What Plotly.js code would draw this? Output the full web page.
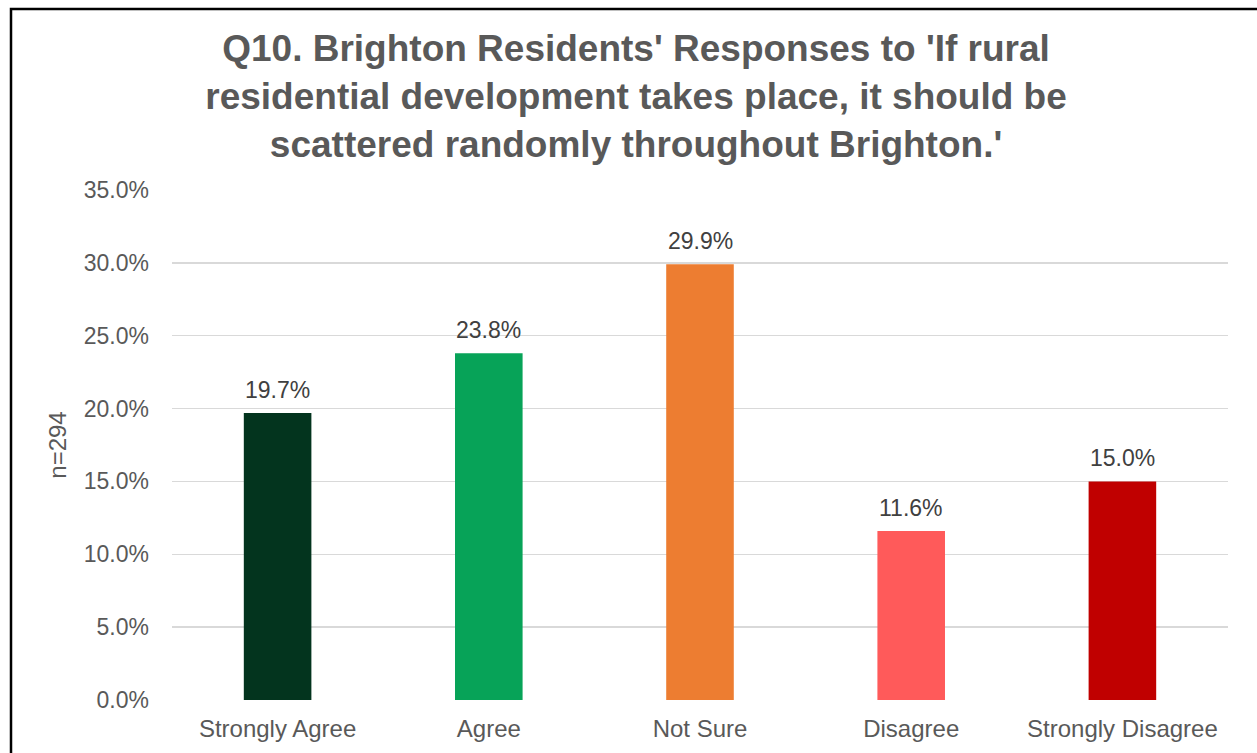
<!DOCTYPE html>
<html>
<head>
<meta charset="utf-8">
<script src="https://cdn.plot.ly/plotly-3.0.1.min.js"></script>
<style>
html,body{margin:0;padding:0;background:#fff;overflow:hidden;}
#chart{width:1257px;height:753px;}
</style>
</head>
<body>
<div id="chart"></div>
<script>
const categories = ["Strongly Agree", "Agree", "Not Sure", "Disagree", "Strongly Disagree"];
const values = [19.7, 23.8, 29.9, 11.6, 15.0];
const labels = ["19.7%", "23.8%", "29.9%", "11.6%", "15.0%"];
const barColors = ["#03341E", "#07A358", "#ED7D31", "#FF5A5A", "#C00000"];
const yTickVals = [0, 5, 10, 15, 20, 25, 30, 35];
const yTickText = ["0.0%", "5.0%", "10.0%", "15.0%", "20.0%", "25.0%", "30.0%", "35.0%"];
const titleText = "Q10. Brighton Residents' Responses to 'If rural<br>residential development takes place, it should be<br>scattered randomly throughout Brighton.'";
const yTitle = "n=294";

const W = 1257, H = 753;
const M = {l: 172, r: 29, t: 190, b: 53};
const pw = W - M.l - M.r, ph = H - M.t - M.b;
const FONT = 'Liberation Sans, Arial, sans-serif';

const trace = {
  type: 'bar',
  x: categories,
  y: values,
  marker: {color: barColors},
  hoverinfo: 'none'
};

const annotations = categories.map((c, i) => ({
  x: c, y: values[i], xref: 'x', yref: 'y',
  text: labels[i], showarrow: false,
  yanchor: 'bottom', yshift: 8,
  font: {family: FONT, size: 23, color: '#404040'}
}));

const layout = {
  width: W, height: H,
  margin: M,
  paper_bgcolor: '#ffffff',
  plot_bgcolor: '#ffffff',
  showlegend: false,
  bargap: 0.68,
  font: {family: FONT, color: '#595959', size: 23},
  title: {
    text: titleText,
    font: {family: FONT, size: 37, color: '#595959', weight: 'bold'},
    x: 0.506, xanchor: 'center',
    y: 1 - 61 / H, yanchor: 'middle', yref: 'container'
  },
  xaxis: {
    type: 'category',
    showgrid: false, zeroline: false, showline: false,
    ticks: '', ticklabelstandoff: 12,
    tickfont: {size: 24, color: '#595959'}
  },
  yaxis: {
    range: [0, 35],
    tickvals: yTickVals, ticktext: yTickText,
    showgrid: true, gridcolor: '#d9d9d9', gridwidth: 1.5,
    zeroline: false, showline: false,
    ticks: '', ticklabelstandoff: 22,
    tickfont: {size: 23, color: '#595959'},
    title: {text: yTitle, font: {size: 24, color: '#595959'}, standoff: 10}
  },
  annotations: annotations,
  shapes: [{
    type: 'path', xref: 'paper', yref: 'paper',
    path: 'M ' + ((11 - M.l) / pw) + ' ' + (-(H + 20 - (H - M.b)) / ph) +
          ' L ' + ((11 - M.l) / pw) + ' ' + ((H - M.b - 9) / ph) +
          ' L ' + ((W + 20 - M.l) / pw) + ' ' + ((H - M.b - 9) / ph),
    line: {color: '#000000', width: 2.5}
  }]
};

Plotly.newPlot('chart', [trace], layout, {displayModeBar: false, staticPlot: true});
</script>
</body>
</html>
